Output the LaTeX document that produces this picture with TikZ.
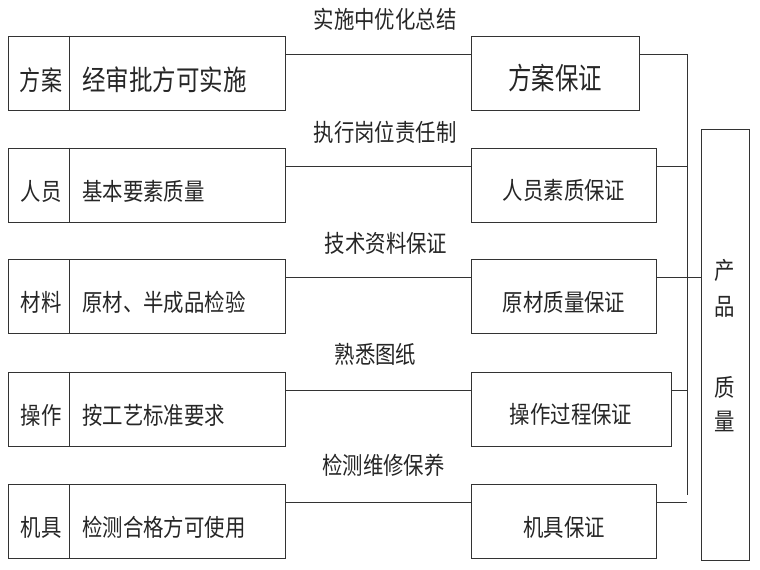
\documentclass[tikz,border=0pt]{standalone}
\usepackage{fontspec}
\newfontfamily\cjk[FakeStretch=0.85]{Noto Sans CJK SC}
\newfontfamily\cjkw[FakeStretch=0.78]{Noto Sans CJK SC}
\newfontfamily\cjkm[FakeStretch=0.84]{Noto Sans CJK SC}
\begin{document}
\begin{tikzpicture}[x=1pt,y=-1pt,
  ln/.style={draw=black!80,line width=1pt},
  leftbox/.style={ln,minimum width=277pt,minimum height=74pt,inner sep=0pt},
  rbox/.style={ln,minimum height=74pt,inner sep=0pt},
  pbox/.style={ln,minimum width=48pt,minimum height=431pt,inner sep=0pt},
  txt/.style={inner sep=0pt,text=black!85,font=\cjk\fontsize{24}{28}\selectfont},
  big/.style={inner sep=0pt,text=black!85,font=\cjkw\fontsize{30}{34}\selectfont},
  bigl/.style={inner sep=0pt,text=black!85,font=\cjkm\fontsize{28}{32}\selectfont},
  bigs/.style={inner sep=0pt,text=black!85,font=\cjkw\fontsize{27}{31}\selectfont},
  lab/.style={inner sep=0pt,text=black!85,font=\cjk\fontsize{24}{28}\selectfont}]
\useasboundingbox (0,0) rectangle (760,570);
\fill[white] (0,0) rectangle (760,570);

% left boxes
\node[leftbox] (L1) at (146.5,73) {};
\node[leftbox] (L2) at (146.5,185) {};
\node[leftbox] (L3) at (146.5,296.5) {};
\node[leftbox] (L4) at (146.5,409) {};
\node[leftbox] (L5) at (146.5,521.5) {};
\foreach \n in {L1,L2,L3,L4,L5}{
  \draw[ln] ([xshift=62pt]\n.north west) -- ([xshift=62pt]\n.south west);
}

% left texts
\node[bigs] (a1) at (41,80) {方案};
\node[bigl,anchor=west] (b1) at (82,80) {经审批方可实施};
\node[txt] (a2) at (41,191) {人员};
\node[txt,anchor=west] (b2) at (82,191) {基本要素质量};
\node[txt] (a3) at (41,302) {材料};
\node[txt,anchor=west] (b3) at (82,302) {原材、半成品检验};
\node[txt] (a4) at (41,415) {操作};
\node[txt,anchor=west] (b4) at (82,415) {按工艺标准要求};
\node[txt] (a5) at (41,527) {机具};
\node[txt,anchor=west] (b5) at (82,527) {检测合格方可使用};

% right boxes
\node[rbox,minimum width=168pt] (R1) at (555,73) {};
\node[rbox,minimum width=185pt] (R2) at (563.5,185) {};
\node[rbox,minimum width=185pt] (R3) at (563.5,296.5) {};
\node[rbox,minimum width=200pt] (R4) at (571,409) {};
\node[rbox,minimum width=185pt] (R5) at (563.5,521.5) {};

\node[big] (t1) at (555,78) {方案保证};
\node[txt] (t2) at (564,190) {人员素质保证};
\node[txt] (t3) at (564,302) {原材质量保证};
\node[txt] (t4) at (571,414) {操作过程保证};
\node[txt] (t5) at (564,527) {机具保证};

% labels
\node[lab] (g1) at (385,19) {实施中优化总结};
\node[lab] (g2) at (385,132.5) {执行岗位责任制};
\node[lab] (g3) at (386,243) {技术资料保证};
\node[lab] (g4) at (375.5,354) {熟悉图纸};
\node[lab] (g5) at (383.5,465) {检测维修保养};

% product box
\node[pbox] (P) at (725,344.5) {};
\node[txt] (p1) at (725,270) {产};
\node[txt] (p2) at (725,307) {品};
\node[txt] (p3) at (725,387) {质};
\node[txt] (p4) at (725,421) {量};

% connectors left -> right
\coordinate (c1) at (285,54);
\coordinate (c2) at (285,166);
\coordinate (c3) at (285,277);
\coordinate (c4) at (285,390);
\coordinate (c5) at (285,502);
\draw[ln] (L1.east |- c1) -- (R1.west |- c1);
\draw[ln] (L2.east |- c2) -- (R2.west |- c2);
\draw[ln] (L3.east |- c3) -- (R3.west |- c3);
\draw[ln] (L4.east |- c4) -- (R4.west |- c4);
\draw[ln] (L5.east |- c5) -- (R5.west |- c5);

% collector
\coordinate (vtop) at (687,54);
\coordinate (vbot) at (687,495);
\draw[ln] (R1.east |- c1) -- (vtop) -- (vbot);
\draw[ln] (R2.east |- c2) -- (vtop |- c2);
\draw[ln] (R3.east |- c3) -- (P.west |- c3);
\draw[ln] (R4.east |- c4) -- (vtop |- c4);
\draw[ln] (R5.east |- c5) -- (vtop |- c5);
\end{tikzpicture}
\end{document}
